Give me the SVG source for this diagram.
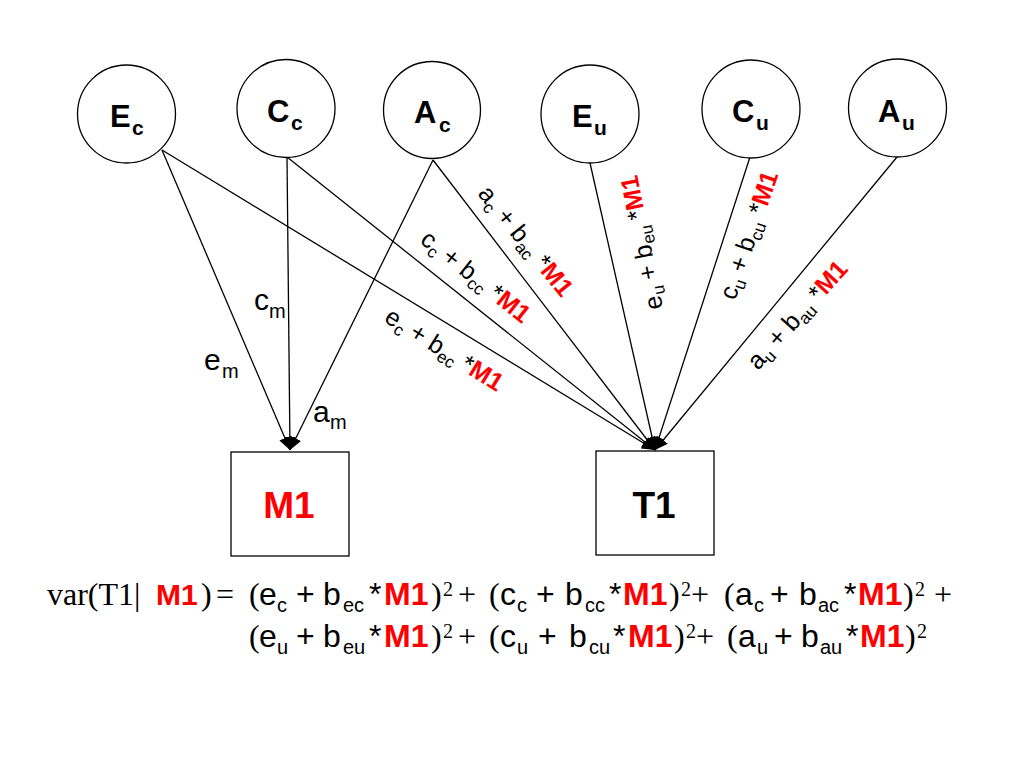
<svg xmlns="http://www.w3.org/2000/svg" width="1024" height="768" viewBox="0 0 1024 768">
<style>
  .node { fill: #fff; stroke: #000; stroke-width: 1.3; }
  .cl { font-family: "Liberation Sans", Arial, sans-serif; font-weight: bold; font-size: 31px; fill: #000; }
  .cs { font-size: 21px; }
  .edge { stroke: #000; stroke-width: 1.3; fill: none; marker-end: url(#arr); }
  .a { font-family: "Liberation Sans", Arial, sans-serif; font-size: 30px; fill: #000; }
  .f { font-family: "Liberation Sans", Arial, sans-serif; font-size: 32px; fill: #000; }
  .as { font-size: 20px; }
  .lbl { font-family: "Liberation Sans", Arial, sans-serif; font-size: 25px; fill: #000; }
  .ls { font-size: 17px; }
  .m { font-family: "Liberation Sans", Arial, sans-serif; font-weight: bold; fill: #ff0000; }
  .tr { font-family: "Liberation Serif", "Times New Roman", serif; font-size: 32px; fill: #000; }
  .sup { font-family: "Liberation Serif", "Times New Roman", serif; font-size: 20px; }
  .box { font-family: "Liberation Sans", Arial, sans-serif; font-weight: bold; font-size: 37px; text-anchor: middle; }
</style>
<defs>
  <marker id="arr" markerUnits="userSpaceOnUse" markerWidth="14" markerHeight="12" refX="13" refY="6" orient="auto">
    <path d="M0,0 L13,6 L0,12 z" fill="#000"/>
  </marker>
</defs>

<g id="connectors">
  <line class="edge" x1="162" y1="150" x2="290" y2="450"/>
  <line class="edge" x1="287" y1="157" x2="290" y2="450"/>
  <line class="edge" x1="433" y1="160" x2="290" y2="450"/>
  <line class="edge" x1="162" y1="150" x2="655" y2="450"/>
  <line class="edge" x1="287" y1="157" x2="655" y2="450"/>
  <line class="edge" x1="433" y1="160" x2="655" y2="450"/>
  <line class="edge" x1="590" y1="163" x2="655" y2="450"/>
  <line class="edge" x1="750" y1="157" x2="655" y2="450"/>
  <line class="edge" x1="897" y1="157" x2="655" y2="450"/>
</g>

<g id="Ec">
  <circle class="node" cx="126.5" cy="114" r="49"/>
  <text class="cl" x="110" y="127">E<tspan class="cs" x="132" y="135">c</tspan></text>
</g>
<g id="Cc">
  <circle class="node" cx="286" cy="108.5" r="49"/>
  <text class="cl" x="267" y="122">C<tspan class="cs" x="291" y="130">c</tspan></text>
</g>
<g id="Ac">
  <circle class="node" cx="432" cy="110" r="48.5"/>
  <text class="cl" x="414" y="123">A<tspan class="cs" x="439" y="132">c</tspan></text>
</g>
<g id="Eu">
  <circle class="node" cx="590" cy="114" r="49"/>
  <text class="cl" x="572" y="127">E<tspan class="cs" x="594" y="135">u</tspan></text>
</g>
<g id="Cu">
  <circle class="node" cx="751" cy="109" r="49"/>
  <text class="cl" x="732" y="122">C<tspan class="cs" x="756" y="130">u</tspan></text>
</g>
<g id="Au">
  <circle class="node" cx="897.5" cy="108" r="49"/>
  <text class="cl" x="878" y="122">A<tspan class="cs" x="902" y="130">u</tspan></text>
</g>

<g id="M1">
  <rect class="node" x="231" y="452" width="118" height="104"/>
  <text class="box m" x="289" y="518">M1</text>
</g>
<g id="T1">
  <rect class="node" x="596" y="451" width="118" height="104"/>
  <text class="box" x="654" y="518">T1</text>
</g>

<g id="edge-labels">
  <text class="a" x="254" y="310">c<tspan class="as" x="269" y="318">m</tspan></text>
  <text class="a" x="204" y="370">e<tspan class="as" x="222" y="378">m</tspan></text>
  <text class="a" x="313" y="422">a<tspan class="as" x="330" y="429">m</tspan></text>

  <text class="lbl" transform="translate(477,194) rotate(51)">a<tspan class="ls" dy="5">c</tspan><tspan dy="-5"> + b</tspan><tspan class="ls" dy="5">ac</tspan><tspan dy="-5"> *</tspan><tspan class="m">M1</tspan></text>
  <text class="lbl" transform="translate(419,242) rotate(38.5)">c<tspan class="ls" dy="5">c</tspan><tspan dy="-5"> + b</tspan><tspan class="ls" dy="5">cc</tspan><tspan dy="-5"> *</tspan><tspan class="m">M1</tspan></text>
  <text class="lbl" transform="translate(383,321) rotate(32)">e<tspan class="ls" dy="5">c</tspan><tspan dy="-5"> + b</tspan><tspan class="ls" dy="5">ec</tspan><tspan dy="-5"> *</tspan><tspan class="m">M1</tspan></text>
  <text class="lbl" transform="translate(663,308) rotate(-101)">e<tspan class="ls" dy="5">u</tspan><tspan dy="-5"> + b</tspan><tspan class="ls" dy="5">eu</tspan><tspan dy="-5"> *</tspan><tspan class="m">M1</tspan></text>
  <text class="lbl" transform="translate(735,301) rotate(-71)">c<tspan class="ls" dy="5">u</tspan><tspan dy="-5"> + b</tspan><tspan class="ls" dy="5">cu</tspan><tspan dy="-5"> *</tspan><tspan class="m">M1</tspan></text>
  <text class="lbl" transform="translate(758,371) rotate(-48)">a<tspan class="ls" dy="5">u</tspan><tspan dy="-5"> + b</tspan><tspan class="ls" dy="5">au</tspan><tspan dy="-5"> *</tspan><tspan class="m">M1</tspan></text>
</g>

<g id="formula">
  <text y="605"><tspan class="tr" x="47" y="605">var(T1|</tspan><tspan class="a m" x="156" y="605">M1</tspan><tspan class="tr" x="201" y="605">)</tspan><tspan class="tr" x="216" y="605">=</tspan><tspan class="tr" x="249" y="605">(</tspan><tspan class="f" x="259" y="605">e</tspan><tspan class="f as" x="277" y="612">c</tspan><tspan class="f" x="296" y="605">+</tspan><tspan class="f" x="323" y="605">b</tspan><tspan class="f as" x="343" y="612">ec</tspan><tspan class="f" x="369" y="605">*</tspan><tspan class="f m" x="384" y="605">M1</tspan><tspan class="tr" x="431" y="605">)</tspan><tspan class="sup" x="443" y="596">2</tspan><tspan class="tr" x="458" y="605">+</tspan><tspan class="tr" x="489" y="605">(</tspan><tspan class="f" x="500" y="605">c</tspan><tspan class="f as" x="517" y="612">c</tspan><tspan class="f" x="536" y="605">+</tspan><tspan class="f" x="565" y="605">b</tspan><tspan class="f as" x="585" y="612">cc</tspan><tspan class="f" x="609" y="605">*</tspan><tspan class="f m" x="623" y="605">M1</tspan><tspan class="tr" x="669" y="605">)</tspan><tspan class="sup" x="681" y="596">2</tspan><tspan class="tr" x="691" y="605">+</tspan><tspan class="tr" x="724" y="605">(</tspan><tspan class="f" x="735" y="605">a</tspan><tspan class="f as" x="754" y="612">c</tspan><tspan class="f" x="770" y="605">+</tspan><tspan class="f" x="799" y="605">b</tspan><tspan class="f as" x="818" y="612">ac</tspan><tspan class="f" x="844" y="605">*</tspan><tspan class="f m" x="858" y="605">M1</tspan><tspan class="tr" x="903" y="605">)</tspan><tspan class="sup" x="915" y="596">2</tspan><tspan class="tr" x="934" y="605">+</tspan></text>
  <text y="647"><tspan class="tr" x="249" y="647">(</tspan><tspan class="f" x="259" y="647">e</tspan><tspan class="f as" x="277" y="654">u</tspan><tspan class="f" x="296" y="647">+</tspan><tspan class="f" x="323" y="647">b</tspan><tspan class="f as" x="343" y="654">eu</tspan><tspan class="f" x="369" y="647">*</tspan><tspan class="f m" x="384" y="647">M1</tspan><tspan class="tr" x="431" y="647">)</tspan><tspan class="sup" x="443" y="638">2</tspan><tspan class="tr" x="458" y="647">+</tspan><tspan class="tr" x="489" y="647">(</tspan><tspan class="f" x="500" y="647">c</tspan><tspan class="f as" x="517" y="654">u</tspan><tspan class="f" x="538" y="647">+</tspan><tspan class="f" x="569" y="647">b</tspan><tspan class="f as" x="589" y="654">cu</tspan><tspan class="f" x="613" y="647">*</tspan><tspan class="f m" x="628" y="647">M1</tspan><tspan class="tr" x="674" y="647">)</tspan><tspan class="sup" x="686" y="638">2</tspan><tspan class="tr" x="696" y="647">+</tspan><tspan class="tr" x="727" y="647">(</tspan><tspan class="f" x="738" y="647">a</tspan><tspan class="f as" x="757" y="654">u</tspan><tspan class="f" x="774" y="647">+</tspan><tspan class="f" x="801" y="647">b</tspan><tspan class="f as" x="820" y="654">au</tspan><tspan class="f" x="846" y="647">*</tspan><tspan class="f m" x="860" y="647">M1</tspan><tspan class="tr" x="905" y="647">)</tspan><tspan class="sup" x="917" y="638">2</tspan></text>
</g>
</svg>
